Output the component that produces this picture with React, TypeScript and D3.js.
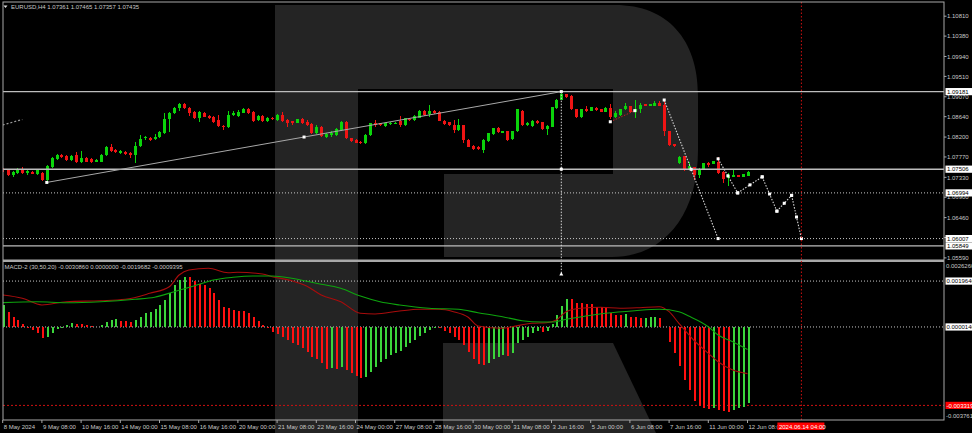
import * as d3 from 'd3';

// EURUSD H4 candles, 8 May 2024 00:00 .. 12 Jun 2024 08:00
const opens = [
  1.0751, 1.0749, 1.0738, 1.0742, 1.075, 1.0743, 1.0745, 1.074, 1.0743, 1.0727,
  1.0755, 1.0773, 1.0781, 1.0779, 1.077, 1.0781, 1.0767, 1.0775, 1.0772, 1.0767,
  1.0767, 1.0781, 1.0799, 1.0792, 1.0786, 1.0788, 1.0786, 1.0781, 1.0801, 1.0818,
  1.0819, 1.0815, 1.082, 1.0829, 1.086, 1.0872, 1.0883, 1.0891, 1.0883, 1.0874,
  1.0861, 1.0872, 1.0865, 1.0863, 1.0856, 1.0844, 1.0842, 1.0868, 1.0865, 1.0873,
  1.0881, 1.0874, 1.0856, 1.0865, 1.0855, 1.0861, 1.0857, 1.0868, 1.0857, 1.0854,
  1.0851, 1.0858, 1.0853, 1.0848, 1.0829, 1.0841, 1.0821, 1.0824, 1.0824, 1.0835,
  1.0852, 1.0817, 1.0814, 1.081, 1.0807, 1.0824, 1.0851, 1.085, 1.0844, 1.0848,
  1.085, 1.0855, 1.0846, 1.086, 1.0857, 1.0862, 1.0876, 1.0869, 1.0876, 1.0874,
  1.0855, 1.0852, 1.0847, 1.0835, 1.0845, 1.0814, 1.0801, 1.0799, 1.0792, 1.0812,
  1.0827, 1.084, 1.0829, 1.0833, 1.0815, 1.0832, 1.0877, 1.0846, 1.0844, 1.0855,
  1.0852, 1.0837, 1.0842, 1.0882, 1.0901, 1.0913, 1.0909, 1.088, 1.0863, 1.088,
  1.0877, 1.0883, 1.088, 1.0875, 1.0883, 1.0863, 1.0868, 1.088, 1.0887, 1.0875,
  1.088, 1.0891, 1.0887, 1.0887, 1.0894, 1.0889, 1.0832, 1.0804, 1.0763, 1.0778,
  1.075, 1.0755, 1.0738, 1.075, 1.0763, 1.0762, 1.0767, 1.0745, 1.0731, 1.0734,
  1.0737, 1.0734, 1.07361,
];
const highs = [
  1.0753, 1.0751, 1.0747, 1.0753, 1.0755, 1.0749, 1.0747, 1.0751, 1.0745, 1.076,
  1.0777, 1.0783, 1.0783, 1.0781, 1.0781, 1.0787, 1.079, 1.0777, 1.0775, 1.0773,
  1.0783, 1.0801, 1.0805, 1.0794, 1.0792, 1.079, 1.0788, 1.081, 1.0824, 1.0822,
  1.082, 1.0827, 1.0833, 1.0872, 1.0874, 1.0885, 1.0894, 1.0894, 1.0885, 1.0876,
  1.0876, 1.0874, 1.0868, 1.0865, 1.0868, 1.0846, 1.0877, 1.0877, 1.0878, 1.0883,
  1.0883, 1.0876, 1.0868, 1.0868, 1.0863, 1.0863, 1.087, 1.0874, 1.0859, 1.0855,
  1.0859, 1.0861, 1.0857, 1.085, 1.0846, 1.0844, 1.0829, 1.0834, 1.084, 1.0855,
  1.0855, 1.0818, 1.0815, 1.0811, 1.0827, 1.0851, 1.0857, 1.0851, 1.0851, 1.0852,
  1.0852, 1.0865, 1.0861, 1.0862, 1.0868, 1.0878, 1.0878, 1.0889, 1.0878, 1.0876,
  1.0857, 1.0852, 1.0857, 1.0858, 1.0846, 1.0815, 1.0802, 1.0801, 1.0815, 1.0829,
  1.084, 1.0842, 1.0833, 1.0834, 1.0834, 1.0881, 1.0878, 1.0852, 1.0857, 1.0857,
  1.0852, 1.0845, 1.0885, 1.0902, 1.0918, 1.0914, 1.091, 1.0881, 1.0881, 1.0887,
  1.0885, 1.0885, 1.0881, 1.0885, 1.0891, 1.0877, 1.0881, 1.0893, 1.0888, 1.09,
  1.0893, 1.0892, 1.0892, 1.0897, 1.0897, 1.09, 1.0833, 1.0806, 1.0778, 1.0779,
  1.0767, 1.0756, 1.0753, 1.0764, 1.0767, 1.0768, 1.0776, 1.0746, 1.0742, 1.0749,
  1.0738, 1.074, 1.07465,
];
const lows = [
  1.0745, 1.0736, 1.0734, 1.074, 1.074, 1.0738, 1.074, 1.0738, 1.0725, 1.0722,
  1.0753, 1.077, 1.0775, 1.0768, 1.0768, 1.0764, 1.0764, 1.0766, 1.0764, 1.0766,
  1.0766, 1.0779, 1.0788, 1.0786, 1.0783, 1.0781, 1.0775, 1.0765, 1.0799, 1.0814,
  1.0811, 1.0814, 1.0818, 1.0827, 1.0831, 1.087, 1.0876, 1.0881, 1.0865, 1.0859,
  1.0852, 1.0863, 1.0859, 1.085, 1.0842, 1.0835, 1.084, 1.0865, 1.0863, 1.0872,
  1.087, 1.0852, 1.0855, 1.0852, 1.0852, 1.0857, 1.0855, 1.0852, 1.0841, 1.0846,
  1.085, 1.0848, 1.0844, 1.0827, 1.0827, 1.082, 1.0819, 1.0821, 1.0822, 1.0833,
  1.0816, 1.081, 1.0807, 1.0805, 1.0805, 1.0822, 1.0842, 1.0844, 1.0842, 1.0846,
  1.0848, 1.0842, 1.0844, 1.0855, 1.0855, 1.0861, 1.0865, 1.0864, 1.087, 1.0854,
  1.0846, 1.0844, 1.0828, 1.0833, 1.0807, 1.0799, 1.0792, 1.0792, 1.0786, 1.081,
  1.0824, 1.0829, 1.0828, 1.0811, 1.0814, 1.0831, 1.0844, 1.0844, 1.0842, 1.0848,
  1.0835, 1.0824, 1.0842, 1.0881, 1.09, 1.0905, 1.0878, 1.0861, 1.0861, 1.0875,
  1.0876, 1.0877, 1.0874, 1.0874, 1.0858, 1.0861, 1.0866, 1.0878, 1.0873, 1.0861,
  1.0871, 1.0886, 1.0886, 1.0886, 1.0887, 1.0822, 1.0801, 1.0799, 1.0762, 1.0747,
  1.0749, 1.0727, 1.0731, 1.0749, 1.0755, 1.0761, 1.074, 1.0721, 1.0714, 1.0733,
  1.0734, 1.0734, 1.07357,
];
const closes = [
  1.0748, 1.0738, 1.0745, 1.075, 1.0742, 1.0746, 1.0741, 1.0748, 1.0727, 1.0757,
  1.0775, 1.0781, 1.0776, 1.077, 1.0779, 1.0767, 1.0775, 1.0767, 1.0767, 1.077,
  1.0782, 1.0799, 1.079, 1.0787, 1.0789, 1.0783, 1.0781, 1.0801, 1.0816, 1.082,
  1.0814, 1.082, 1.0831, 1.086, 1.0871, 1.0883, 1.0891, 1.0883, 1.0872, 1.0861,
  1.0874, 1.0864, 1.0861, 1.0852, 1.0843, 1.0843, 1.0868, 1.0872, 1.0875, 1.0881,
  1.0871, 1.0855, 1.0865, 1.0855, 1.0862, 1.0858, 1.0868, 1.0855, 1.085, 1.0851,
  1.0858, 1.0851, 1.0846, 1.0828, 1.0841, 1.0822, 1.0827, 1.0829, 1.0837, 1.0852,
  1.0817, 1.0812, 1.0808, 1.0807, 1.0824, 1.085, 1.0846, 1.0846, 1.085, 1.0851,
  1.0851, 1.0846, 1.0861, 1.0857, 1.0865, 1.0876, 1.0868, 1.0876, 1.0871, 1.0855,
  1.0848, 1.0846, 1.0835, 1.0846, 1.0814, 1.0799, 1.0794, 1.0794, 1.0814, 1.0828,
  1.0839, 1.083, 1.0832, 1.0814, 1.0833, 1.088, 1.0846, 1.0851, 1.0855, 1.085,
  1.0837, 1.0844, 1.0884, 1.0901, 1.0914, 1.0907, 1.088, 1.0863, 1.088, 1.0877,
  1.0884, 1.0878, 1.0875, 1.0883, 1.0863, 1.0871, 1.088, 1.0887, 1.0875, 1.088,
  1.0889, 1.0887, 1.0891, 1.0894, 1.0887, 1.0832, 1.0803, 1.0801, 1.0776, 1.0749,
  1.0757, 1.0738, 1.0752, 1.0763, 1.076, 1.0768, 1.0742, 1.0729, 1.0738, 1.0738,
  1.0734, 1.074, 1.07435,
];

// MACD-2 (30,50,20)
const macdHist = [
  0.000935, 0.000663, 0.000451, 0.00031, 0.00014, 0.000013, -0.000115, -0.00023, -0.000442, -0.000425,
  -0.000255, -0.000072, -0.000021, 0.000085, 0.0002, 0.00014, 0.000138, 0.000115, 0.000072, 0.00003,
  0.000085, 0.000242, 0.00031, 0.00034, 0.000285, 0.000268, 0.000225, 0.00031, 0.000455, 0.000625,
  0.000667, 0.000765, 0.000935, 0.00116, 0.001445, 0.001798, 0.00201, 0.002155, 0.002146, 0.001985,
  0.00184, 0.001798, 0.001658, 0.001445, 0.00116, 0.00088, 0.000808, 0.000735, 0.00071, 0.000693,
  0.000625, 0.000425, 0.000285, 0.000098, 0.000013, -0.000183, -0.000285, -0.000395, -0.00054, -0.00065,
  -0.000752, -0.000893, -0.001033, -0.001245, -0.00136, -0.00153, -0.001785, -0.001743, -0.001764, -0.0017,
  -0.001815, -0.001955, -0.00207, -0.002168, -0.002125, -0.001883, -0.00167, -0.001458, -0.00136, -0.001177,
  -0.001075, -0.00099, -0.00082, -0.00068, -0.00054, -0.00037, -0.000225, -0.000115, -0.00003, -0.000042,
  -0.00014, -0.000225, -0.000395, -0.00054, -0.000752, -0.001033, -0.00136, -0.00156, -0.001602, -0.0015,
  -0.00136, -0.001245, -0.00119, -0.00122, -0.001075, -0.00065, -0.00054, -0.000425, -0.000255, -0.000157,
  -0.0002, -0.00014, 0.000128, 0.000523, 0.000905, 0.00119, 0.001182, 0.00105, 0.00102, 0.00099,
  0.000978, 0.00088, 0.00085, 0.000842, 0.000595, 0.000523, 0.000519, 0.000553, 0.000455, 0.000425,
  0.000383, 0.000395, 0.000425, 0.000434, 0.000395, 0.00003, -0.000608, -0.001075, -0.001645, -0.00224,
  -0.002665, -0.003115, -0.003345, -0.003413, -0.003485, -0.003413, -0.003528, -0.00357, -0.003591, -0.003528,
  -0.003443, -0.0034, -0.00323,
];
const macdMainBars = [0, 4, 8, 13, 20, 25, 30, 34, 36, 38, 42, 46, 48, 53, 55, 59, 62, 65, 69, 73, 76, 81, 85, 89, 92, 95, 97, 102, 104, 108, 111, 113, 115, 118, 122, 126, 130, 134, 136, 138, 141, 144, 146, 149, 152];
const macdMainVals = [
  0.001373, 0.001233, 0.000948, 0.001088, 0.001131, 0.00119, 0.001445, 0.001726, 0.002223, 0.002435,
  0.002508, 0.002321, 0.002338, 0.002265, 0.002151, 0.001981, 0.001755, 0.001373, 0.001088, 0.000595,
  0.000565, 0.000693, 0.000765, 0.000765, 0.000663, 0.000425, 0.000055, -0.0000425, 0.0000255, 0.00017,
  0.000196, 0.00031, 0.000663, 0.000808, 0.00085, 0.000808, 0.000833, 0.000876, 0.000663, 0.00017,
  -0.00054, -0.001105, -0.001462, -0.001815, -0.001968,
];
const macdSignalBars = [0, 7, 13, 20, 27, 31, 35, 39, 43, 47, 51, 55, 59, 64, 69, 73, 77, 81, 87, 93, 97, 102, 106, 110, 112, 115, 119, 123, 129, 134, 138, 140, 144, 146, 149, 152];
const macdSignalVals = [
  0.001046, 0.001088, 0.001046, 0.001088, 0.00119, 0.001275, 0.001513, 0.001755, 0.00201, 0.002125,
  0.00218, 0.00218, 0.002083, 0.00187, 0.001658, 0.00133, 0.001088, 0.000948, 0.000808, 0.000765,
  0.000621, 0.000451, 0.000281, 0.000225, 0.000225, 0.00034, 0.00048, 0.000595, 0.000706, 0.000765,
  0.000663, 0.00048, 0.0000255, -0.000327, -0.000612, -0.00094,
];
// values shown in the indicator's title line
const macdTitleValues = [-0.003086, 0, -0.0019682, -0.0009395];

const priceTicks = [1.1081, 1.1038, 1.0994, 1.0951, 1.0907, 1.0864, 1.082, 1.0777, 1.0733, 1.069, 1.0646, 1.0603, 1.0559];
const macdTicks = [0.002626, -0.0037615];
const timeLabels = [
  '8 May 2024', '9 May 08:00', '10 May 16:00', '14 May 00:00', '15 May 08:00', '16 May 16:00',
  '20 May 00:00', '21 May 08:00', '22 May 16:00', '24 May 00:00', '27 May 08:00', '28 May 16:00',
  '30 May 00:00', '31 May 08:00', '3 Jun 16:00', '5 Jun 00:00', '6 Jun 08:00', '7 Jun 16:00',
  '11 Jun 00:00', '12 Jun 08:00',
];

// drawing objects
const solidLevels = [1.09181, 1.07506, 1.05849];
const dottedLevels = [1.06994, 1.06007];
const macdLevels = [0.0019646, 0.000014];
const macdAlert = -0.0033195;
const trendBars = [9, 114];
const trendPrices = [1.0722, 1.09181];
const dropBars = [135, 146];
const dropPrices = [1.09, 1.06007];
const zigBars = [146, 150, 155, 158, 161, 163];
const zigPrices = [1.0773, 1.06994, 1.0734, 1.066, 1.0694, 1.06007];
const redSegBars = [124, 129];
const redSegPrices = [1.0853, 1.0877];
const oldTrendBars = [0, 4];
const oldTrendPrices = [1.0846, 1.0858];
const peakBar = 114;
const peakPrices = [1.09181, 1.0524];
const cursorBar = 163;
const cursorLabel = '2024.06.14 04:00';

const FONT = "'Liberation Sans', Arial, sans-serif";
const AXIS_TEXT = '#c8c8c8';
const BULL = '#0bd40b';
const BEAR = '#f01414';
const FRAME = { l: 3, r: 944, t: 2, b: 420 };

const fmtP = (v: number) => v.toFixed(5);
const fmtM = (v: number) => v.toFixed(7);

function Marker({ x, y }: { x: number; y: number }) {
  return <rect x={x - 1.5} y={y - 1.5} width={3} height={3} fill="#fff" />;
}

export default function App() {
  const x = d3.scaleLinear().domain([0, 152]).range([2.7, 747.5]);
  const y = d3.scaleLinear().domain([1.0559, 1.1081]).range([257.9, 16.2]);
  const ym = d3.scaleLinear().domain([-0.0037615, 0.002626]).range([415.8, 265.5]);

  const lineM = d3
    .line<[number, number]>()
    .x((d) => x(d[0]))
    .y((d) => ym(d[1]))
    .curve(d3.curveMonotoneX);
  const mainPts = macdMainBars.map((b, i) => [b, macdMainVals[i]] as [number, number]);
  const sigPts = macdSignalBars.map((b, i) => [b, macdSignalVals[i]] as [number, number]);

  const segs = (bars: number[], prices: number[]) =>
    bars.slice(1).map((b, i) => ({ x1: x(bars[i]), y1: y(prices[i]), x2: x(b), y2: y(prices[i + 1]) }));

  const trend = segs(trendBars, trendPrices);
  const drop = segs(dropBars, dropPrices);
  const zig = segs(zigBars, zigPrices);
  const redSeg = segs(redSegBars, redSegPrices);
  const oldTrend = segs(oldTrendBars, oldTrendPrices);

  const last = opens.length - 1;

  const priceBox = (v: number, key: string) => {
    const yy = y(v);
    return (
      <g key={key}>
        <rect x={945.5} y={yy - 3.6} width={26.5} height={7.2} fill="#fff" />
        <text x={947} y={yy + 2.2} fontSize={6} fill="#000">
          {fmtP(v)}
        </text>
      </g>
    );
  };

  return (
    <svg
      width={972}
      height={433}
      style={{ position: 'absolute', left: 0, top: 0, background: '#000' }}
      fontFamily={FONT}
    >
      <defs>
        <clipPath id="mainClip">
          <rect x={FRAME.l} y={FRAME.t} width={FRAME.r - FRAME.l} height={257} />
        </clipPath>
        <clipPath id="macdClip">
          <rect x={FRAME.l} y={263} width={FRAME.r - FRAME.l} height={FRAME.b - 263} />
        </clipPath>
      </defs>

      {/* watermark */}
      <path
        d="M275,5 H615 C668,5 698,40 698,95 V150 C698,215 664,257 612,257 H444 V174 H613 V89 H358 V433 H275 Z"
        fill="#242424"
      />
      <path d="M443,343 H613 L656,433 H443 Z" fill="#242424" />

      {/* main panel */}
      <g clipPath="url(#mainClip)">
        {opens.map((o, i) => {
          const c = closes[i];
          const col = c >= o ? BULL : BEAR;
          const cx = Math.round(x(i)) + 0.5;
          const top = y(Math.max(o, c));
          const h = Math.max(1, Math.abs(y(o) - y(c)));
          return (
            <g key={i} shapeRendering="crispEdges">
              <line x1={cx} x2={cx} y1={y(highs[i])} y2={y(lows[i])} stroke={col} strokeWidth={1} />
              <rect x={cx - 1.5} y={top} width={3} height={h} fill={col} />
            </g>
          );
        })}

        {solidLevels.map((v) => (
          <line key={v} x1={FRAME.l} x2={FRAME.r} y1={y(v)} y2={y(v)} stroke="#bdbdbd" strokeWidth={1.4} />
        ))}
        {dottedLevels.map((v) => (
          <line key={v} x1={FRAME.l} x2={FRAME.r} y1={y(v)} y2={y(v)} stroke="#c8c8c8" strokeWidth={1} strokeDasharray="1 2" />
        ))}

        {oldTrend.map((s, i) => (
          <line key={i} {...s} stroke="#9a9a9a" strokeWidth={1.2} strokeDasharray="2 2" />
        ))}
        {trend.map((s, i) => (
          <g key={i}>
            <line {...s} stroke="#a8a8a8" strokeWidth={1} />
            <Marker x={s.x1} y={s.y1} />
            <Marker x={(s.x1 + s.x2) / 2} y={(s.y1 + s.y2) / 2} />
            <Marker x={s.x2} y={s.y2} />
          </g>
        ))}
        {redSeg.map((s, i) => (
          <g key={i}>
            <line {...s} stroke="#c02020" strokeWidth={1} strokeDasharray="1.5 1.5" />
            <Marker x={s.x1} y={s.y1} />
            <Marker x={s.x2} y={s.y2} />
          </g>
        ))}
        {[...drop, ...zig].map((s, i) => (
          <g key={i}>
            <line {...s} stroke="#d8d8d8" strokeWidth={1.1} strokeDasharray="1.5 1.5" />
            <Marker x={s.x1} y={s.y1} />
            <Marker x={(s.x1 + s.x2) / 2} y={(s.y1 + s.y2) / 2} />
            <Marker x={s.x2} y={s.y2} />
          </g>
        ))}
      </g>

      {/* vertical marker line from the peak */}
      <line
        x1={x(peakBar)}
        x2={x(peakBar)}
        y1={y(peakPrices[0])}
        y2={y(peakPrices[1])}
        stroke="#d8d8d8"
        strokeWidth={1}
        strokeDasharray="1.5 1.5"
      />
      <Marker x={x(peakBar)} y={y(solidLevels[1])} />
      <path
        d={`M${x(peakBar) - 2},${y(peakPrices[1]) + 1.5} L${x(peakBar)},${y(peakPrices[1]) - 2} L${x(peakBar) + 2},${y(peakPrices[1]) + 1.5} Z`}
        fill="#fff"
      />

      {/* panel separator */}
      <rect x={FRAME.l} y={259.5} width={FRAME.r - FRAME.l} height={2.5} fill="#a8a8a8" />

      {/* MACD panel */}
      <g clipPath="url(#macdClip)">
        {macdLevels.map((v) => (
          <line key={v} x1={FRAME.l} x2={FRAME.r} y1={ym(v)} y2={ym(v)} stroke="#c8c8c8" strokeWidth={1} strokeDasharray="1 2" />
        ))}
        <line x1={FRAME.l} x2={FRAME.r} y1={ym(macdAlert)} y2={ym(macdAlert)} stroke="#d01010" strokeWidth={1} strokeDasharray="2 2" />
        {macdHist.map((v, i) => {
          const up = i === 0 ? v > 0 : v > macdHist[i - 1];
          const y0 = ym(0);
          const y1 = ym(v);
          return (
            <rect
              key={i}
              x={Math.round(x(i)) - 0.5}
              y={Math.min(y0, y1)}
              width={2}
              height={Math.max(0.8, Math.abs(y1 - y0))}
              fill={up ? '#3bd63b' : '#ff1010'}
              shapeRendering="crispEdges"
            />
          );
        })}
        <path d={lineM(mainPts) ?? ''} fill="none" stroke="#a80c0c" strokeWidth={1.1} />
        <path d={lineM(sigPts) ?? ''} fill="none" stroke="#0ea40e" strokeWidth={1.1} />
      </g>

      {/* red time cursor */}
      <line x1={x(cursorBar)} x2={x(cursorBar)} y1={FRAME.t} y2={FRAME.b} stroke="#d01010" strokeWidth={1} strokeDasharray="1.5 2" />

      {/* frame */}
      <rect
        x={FRAME.l}
        y={FRAME.t}
        width={FRAME.r - FRAME.l}
        height={FRAME.b - FRAME.t}
        fill="none"
        stroke="#a8a8a8"
        strokeWidth={1}
      />

      {/* headers */}
      <path d="M3.5,5.5 L7.5,5.5 L5.5,8 Z" fill="#ddd" />
      <text x={11} y={8.6} fontSize={6} fill={AXIS_TEXT}>
        {`EURUSD,H4  ${fmtP(opens[last])} ${fmtP(highs[last])} ${fmtP(lows[last])} ${fmtP(closes[last])}`}
      </text>
      <text x={4.5} y={268.6} fontSize={6} fill={AXIS_TEXT}>
        {`MACD-2 (30,50,20) ${macdTitleValues.map(fmtM).join(' ')}`}
      </text>

      {/* price axis */}
      {priceTicks.map((v) => (
        <g key={v}>
          <line x1={FRAME.r} x2={FRAME.r + 2.5} y1={y(v)} y2={y(v)} stroke="#a8a8a8" />
          <text x={947} y={y(v) + 2.2} fontSize={6} fill={AXIS_TEXT}>
            {fmtP(v)}
          </text>
        </g>
      ))}
      {solidLevels.map((v) => priceBox(v, 's' + v))}
      {dottedLevels.map((v) => priceBox(v, 'd' + v))}

      {/* MACD axis */}
      {macdTicks.map((v) => (
        <text key={v} x={946} y={ym(v) + 2.2} fontSize={6} fill={AXIS_TEXT}>
          {fmtM(v)}
        </text>
      ))}
      {macdLevels.map((v) => (
        <g key={v}>
          <rect x={945.5} y={ym(v) - 3.6} width={26.5} height={7.2} fill="#fff" />
          <text x={946.5} y={ym(v) + 2.2} fontSize={6} fill="#000">
            {fmtM(v)}
          </text>
        </g>
      ))}
      <rect x={945.5} y={ym(macdAlert) - 3.6} width={26.5} height={7.2} fill="#f00" />
      <text x={946.5} y={ym(macdAlert) + 2.2} fontSize={6} fill="#fff">
        {fmtM(macdAlert)}
      </text>

      {/* time axis */}
      {timeLabels.map((t, k) => {
        const tx = x(k * 8);
        return (
          <g key={t}>
            <line x1={tx} x2={tx} y1={FRAME.b} y2={FRAME.b + 3} stroke="#a8a8a8" />
            <text x={tx + 1} y={428.5} fontSize={6} fill={AXIS_TEXT}>
              {t}
            </text>
          </g>
        );
      })}
      <rect x={x(cursorBar) - 24} y={422.5} width={47} height={7.5} fill="#f00" />
      <text x={x(cursorBar) - 22.5} y={428.5} fontSize={6} fill="#fff">
        {cursorLabel}
      </text>
    </svg>
  );
}
